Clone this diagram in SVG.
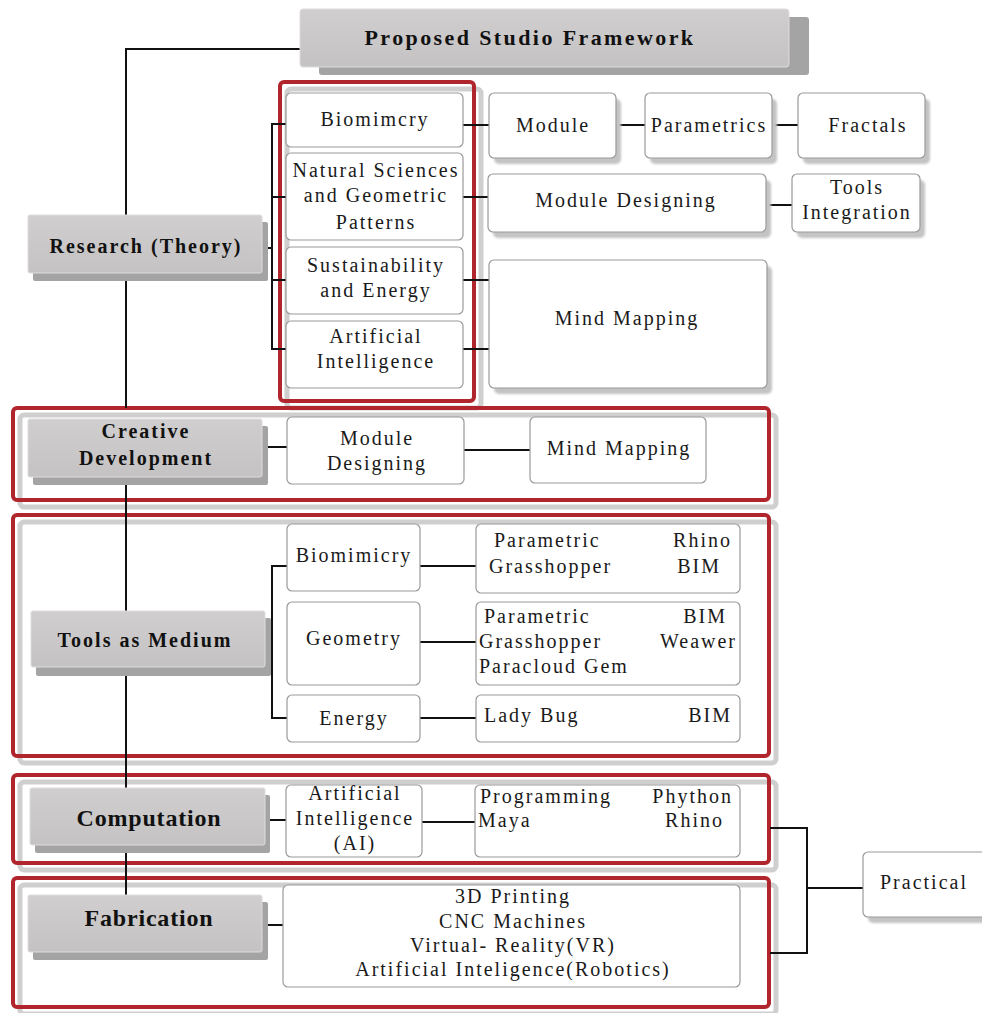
<svg xmlns="http://www.w3.org/2000/svg" width="982" height="1013" viewBox="0 0 982 1013">
<defs>
<linearGradient id="gg" x1="0" y1="0" x2="0" y2="1">
<stop offset="0" stop-color="#d0cece"/>
<stop offset="1" stop-color="#c4c2c2"/>
</linearGradient>
<filter id="soft" x="-5%" y="-5%" width="110%" height="110%"><feGaussianBlur stdDeviation="1"/></filter>
</defs>
<style>
.t{font-family:"Liberation Serif","Times New Roman",serif;font-size:20px;letter-spacing:2px;fill:#1a1a1a;text-anchor:middle}
.s{text-anchor:start}
.e{text-anchor:end}
.b{font-weight:bold;fill:#111}
.big{font-size:24px;letter-spacing:0.8px}
.gb{fill:url(#gg);stroke:#dedcdc;stroke-width:1}
.gs{fill:#a4a4a4}
.wb{fill:#fff;stroke:#9a9a9a;stroke-width:1.2}
.ws{fill:#c4c4c4;filter:url(#soft)}
.rf{fill:none;stroke:#b0262c;stroke-width:4}
.rs{fill:none;stroke:#cfcfcf;stroke-width:5}
.c{fill:none;stroke:#111;stroke-width:2}
</style>
<rect width="982" height="1013" fill="#fff"/>

<g id="frames">
<rect class="rs" x="287" y="89" width="194" height="319" rx="4"/>
<rect class="rf" x="280" y="82" width="194" height="319" rx="4"/>
<rect class="rs" x="20" y="415" width="756" height="92" rx="4"/>
<rect class="rf" x="13" y="408" width="756" height="92" rx="4"/>
<rect class="rs" x="20" y="522" width="756" height="241" rx="4"/>
<rect class="rf" x="13" y="515" width="756" height="241" rx="4"/>
<rect class="rs" x="20" y="782" width="756" height="88" rx="4"/>
<rect class="rf" x="13" y="775" width="756" height="88" rx="4"/>
<rect class="rs" x="20" y="885" width="756" height="129" rx="4"/>
<rect class="rf" x="13" y="878" width="756" height="129" rx="4"/>
</g>

<g id="connectors">
<path class="c" d="M300 49H126V215M126 273V408M126 477V611M126 667V788M126 845V895"/>
<path class="c" d="M262 248H272M286 124H272V349H286M272 197H286M272 280H286"/>
<path class="c" d="M463 125H489M463 197H488M463 280H489M463 349H489"/>
<path class="c" d="M616 125H645M772 125H798M766 205H792"/>
<path class="c" d="M262 447H287M464 450H530"/>
<path class="c" d="M265 642H272M287 566H272V718H287"/>
<path class="c" d="M420 566H476M420 642H476M420 718H476"/>
<path class="c" d="M265 820H286M422 822H475M262 925H283"/>
<path class="c" d="M770 828H807V953H770M807 888H863"/>
</g>

<g id="title">
<rect class="gs" x="319" y="17" width="490" height="58" rx="3"/>
<rect class="gb" x="300" y="9" width="489" height="58" rx="3"/>
<text class="t b" x="530" y="45" style="font-size:22px;letter-spacing:2.4px">Proposed Studio Framework</text>
</g>

<g id="research">
<rect class="gs" x="33" y="222" width="235" height="59" rx="2"/>
<rect class="gb" x="28" y="215" width="234" height="58" rx="2"/>
<text class="t b" x="146" y="253">Research (Theory)</text>
</g>

<g id="r-biomimcry">
<rect class="wb" x="286" y="93" width="177" height="54" rx="5"/>
<text class="t" x="375" y="126">Biomimcry</text>
</g>
<g id="r-natural">
<rect class="wb" x="286" y="153" width="177" height="87" rx="5"/>
<text class="t" x="376" y="177">Natural Sciences</text>
<text class="t" x="376" y="202">and Geometric</text>
<text class="t" x="376" y="229">Patterns</text>
</g>
<g id="r-sustain">
<rect class="wb" x="286" y="247" width="177" height="67" rx="5"/>
<text class="t" x="376" y="272">Sustainability</text>
<text class="t" x="376" y="297">and Energy</text>
</g>
<g id="r-ai">
<rect class="wb" x="286" y="321" width="177" height="67" rx="5"/>
<text class="t" x="376" y="343">Artificial</text>
<text class="t" x="376" y="368">Intelligence</text>
</g>

<g id="module">
<rect class="ws" x="494" y="99" width="127" height="65" rx="5"/>
<rect class="wb" x="489" y="93" width="127" height="65" rx="5"/>
<text class="t" x="553" y="132">Module</text>
</g>
<g id="parametrics">
<rect class="ws" x="650" y="99" width="127" height="65" rx="5"/>
<rect class="wb" x="645" y="93" width="127" height="65" rx="5"/>
<text class="t" x="709" y="132">Parametrics</text>
</g>
<g id="fractals">
<rect class="ws" x="803" y="99" width="127" height="65" rx="5"/>
<rect class="wb" x="798" y="93" width="127" height="65" rx="5"/>
<text class="t" x="868" y="132">Fractals</text>
</g>
<g id="module-designing">
<rect class="ws" x="493" y="180" width="278" height="58" rx="5"/>
<rect class="wb" x="488" y="174" width="278" height="58" rx="5"/>
<text class="t" x="626" y="207">Module Designing</text>
</g>
<g id="tools-integration">
<rect class="ws" x="797" y="180" width="128" height="58" rx="5"/>
<rect class="wb" x="792" y="174" width="128" height="58" rx="5"/>
<text class="t" x="857" y="194">Tools</text>
<text class="t" x="857" y="219">Integration</text>
</g>
<g id="mind-mapping-1">
<rect class="ws" x="494" y="266" width="278" height="128" rx="5"/>
<rect class="wb" x="489" y="260" width="278" height="128" rx="5"/>
<text class="t" x="627" y="325">Mind Mapping</text>
</g>

<g id="creative">
<rect class="gs" x="33" y="426" width="235" height="59" rx="2"/>
<rect class="gb" x="28" y="419" width="234" height="58" rx="2"/>
<text class="t b" x="146" y="438">Creative</text>
<text class="t b" x="146" y="465">Development</text>
</g>
<g id="c-module">
<rect class="wb" x="287" y="417" width="177" height="67" rx="5"/>
<text class="t" x="377" y="445">Module</text>
<text class="t" x="377" y="470">Designing</text>
</g>
<g id="c-mind">
<rect class="wb" x="530" y="417" width="176" height="66" rx="5"/>
<text class="t" x="619" y="455">Mind Mapping</text>
</g>

<g id="tools">
<rect class="gs" x="36" y="618" width="235" height="58" rx="2"/>
<rect class="gb" x="31" y="611" width="234" height="56" rx="2"/>
<text class="t b" x="145" y="647">Tools as Medium</text>
</g>
<g id="t-biomimicry">
<rect class="wb" x="287" y="524" width="133" height="67" rx="5"/>
<text class="t" x="354" y="562">Biomimicry</text>
</g>
<g id="t-geometry">
<rect class="wb" x="287" y="602" width="133" height="83" rx="5"/>
<text class="t" x="354" y="645">Geometry</text>
</g>
<g id="t-energy">
<rect class="wb" x="287" y="695" width="133" height="47" rx="5"/>
<text class="t" x="354" y="725">Energy</text>
</g>
<g id="t-tools1">
<rect class="wb" x="476" y="524" width="264" height="69" rx="5"/>
<text class="t s" x="494" y="547">Parametric</text>
<text class="t e" x="732" y="547">Rhino</text>
<text class="t s" x="489" y="573">Grasshopper</text>
<text class="t e" x="721" y="573">BIM</text>
</g>
<g id="t-tools2">
<rect class="wb" x="476" y="602" width="264" height="83" rx="5"/>
<text class="t s" x="484" y="623">Parametric</text>
<text class="t e" x="727" y="623">BIM</text>
<text class="t s" x="479" y="648">Grasshopper</text>
<text class="t e" x="737" y="648">Weawer</text>
<text class="t s" x="479" y="673">Paracloud Gem</text>
</g>
<g id="t-tools3">
<rect class="wb" x="476" y="695" width="264" height="47" rx="5"/>
<text class="t s" x="484" y="722">Lady Bug</text>
<text class="t e" x="732" y="722">BIM</text>
</g>

<g id="computation">
<rect class="gs" x="35" y="795" width="235" height="58" rx="2"/>
<rect class="gb" x="30" y="788" width="235" height="57" rx="2"/>
<text class="t b big" x="149" y="826">Computation</text>
</g>
<g id="c-ai">
<rect class="wb" x="286" y="785" width="136" height="72" rx="5"/>
<text class="t" x="355" y="800">Artificial</text>
<text class="t" x="355" y="825">Intelligence</text>
<text class="t" x="355" y="850">(AI)</text>
</g>
<g id="programming">
<rect class="wb" x="475" y="785" width="265" height="72" rx="5"/>
<text class="t s" x="480" y="803">Programming</text>
<text class="t e" x="733" y="803">Phython</text>
<text class="t s" x="478" y="827">Maya</text>
<text class="t e" x="724" y="827">Rhino</text>
</g>

<g id="fabrication">
<rect class="gs" x="33" y="902" width="235" height="58" rx="2"/>
<rect class="gb" x="28" y="895" width="234" height="57" rx="2"/>
<text class="t b big" x="149" y="926">Fabrication</text>
</g>
<g id="f-list">
<rect class="wb" x="283" y="885" width="457" height="102" rx="5"/>
<text class="t" x="513" y="903">3D Printing</text>
<text class="t" x="513" y="928">CNC Machines</text>
<text class="t" x="513" y="952">Virtual- Reality(VR)</text>
<text class="t" x="513" y="976">Artificial Inteligence(Robotics)</text>
</g>

<g id="practical">
<rect class="ws" x="868" y="858" width="130" height="65" rx="5"/>
<rect class="wb" x="863" y="852" width="130" height="65" rx="5"/>
<text class="t s" x="880" y="889">Practical</text>
</g>
</svg>
